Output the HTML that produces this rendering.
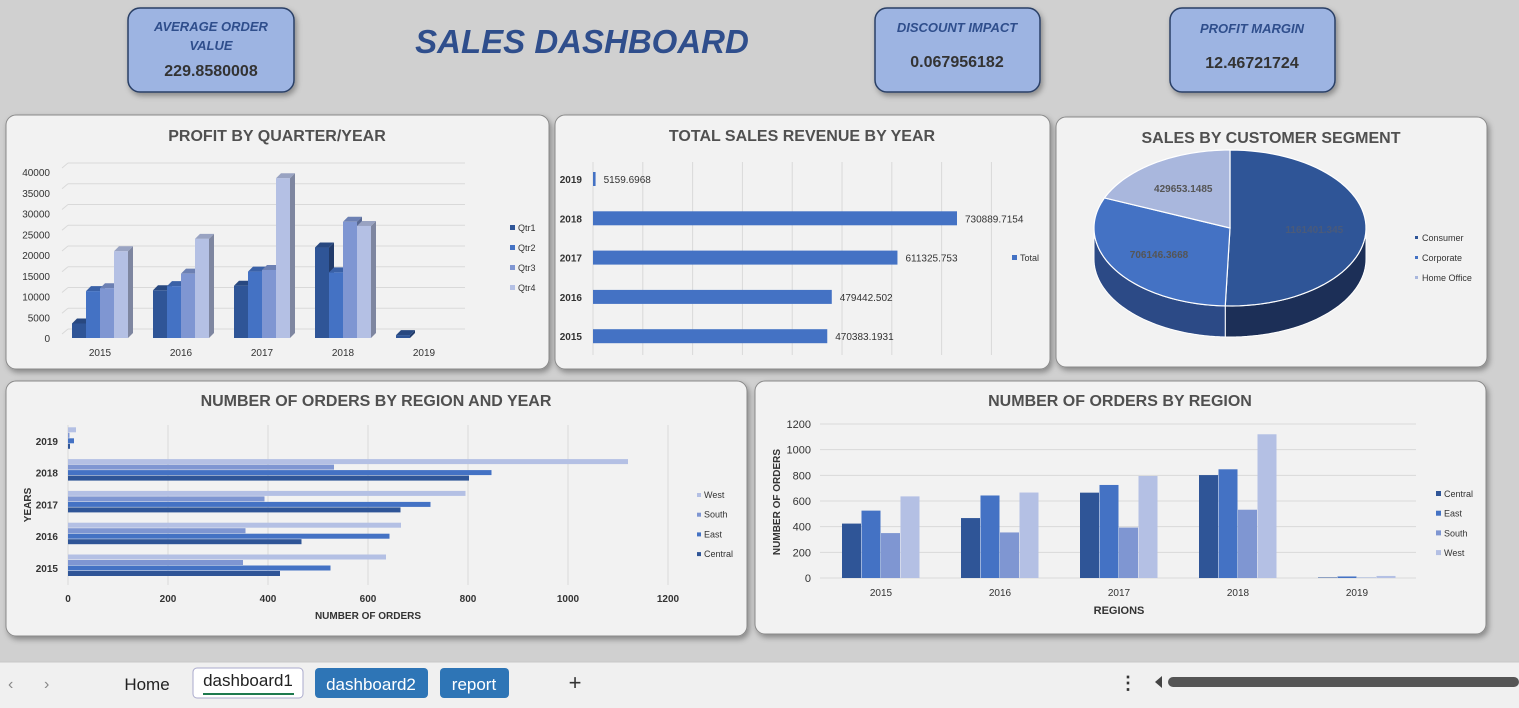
<!DOCTYPE html>
<html><head><meta charset="utf-8"><style>
html,body{margin:0;padding:0;width:1519px;height:708px;overflow:hidden;background:#d0d0d0;font-family:"Liberation Sans",sans-serif}
svg text{font-family:"Liberation Sans",sans-serif}
</style></head><body>
<svg id="s" width="1519" height="708" xmlns="http://www.w3.org/2000/svg">
<defs>
<filter id="sh" x="-10%" y="-10%" width="130%" height="140%"><feDropShadow dx="2" dy="3" stdDeviation="3" flood-color="#000" flood-opacity="0.35"/></filter>
</defs>
<rect width="1519" height="708" fill="#d0d0d0"/>
<g>
<rect x="128" y="8" width="166" height="84" rx="12" fill="#9db4e2" stroke="#2a3f66" stroke-width="1.5" filter="url(#sh)"/>
<text x="211" y="31" text-anchor="middle" font-size="13" font-weight="bold" font-style="italic" fill="#2f4e8c">AVERAGE ORDER</text>
<text x="211" y="50" text-anchor="middle" font-size="13" font-weight="bold" font-style="italic" fill="#2f4e8c">VALUE</text>
<text x="211" y="76" text-anchor="middle" font-size="16" font-weight="bold" fill="#333">229.8580008</text></g>
<text x="582" y="53" text-anchor="middle" font-size="33" font-weight="bold" font-style="italic" fill="#2f4e8c">SALES DASHBOARD</text>
<g>
<rect x="875" y="8" width="165" height="84" rx="12" fill="#9db4e2" stroke="#2a3f66" stroke-width="1.5" filter="url(#sh)"/>
<text x="957" y="32" text-anchor="middle" font-size="13" font-weight="bold" font-style="italic" fill="#2f4e8c">DISCOUNT IMPACT</text>
<text x="957" y="67" text-anchor="middle" font-size="16" font-weight="bold" fill="#333">0.067956182</text></g>
<g>
<rect x="1170" y="8" width="165" height="84" rx="12" fill="#9db4e2" stroke="#2a3f66" stroke-width="1.5" filter="url(#sh)"/>
<text x="1252" y="33" text-anchor="middle" font-size="13" font-weight="bold" font-style="italic" fill="#2f4e8c">PROFIT MARGIN</text>
<text x="1252" y="68" text-anchor="middle" font-size="16" font-weight="bold" fill="#333">12.46721724</text></g>

<g id="panels"></g>
<g id="c1"></g><g id="c2"></g><g id="c3"></g><g id="c4"></g><g id="c5"></g>

<g>
<rect x="0" y="662" width="1519" height="46" fill="#f0f0f0"/>
<line x1="0" y1="662" x2="1519" y2="662" stroke="#c8c8c8"/>
<text x="8" y="689" font-size="16" fill="#888">‹</text>
<text x="44" y="689" font-size="16" fill="#888">›</text>
<text x="147" y="690" text-anchor="middle" font-size="17" fill="#222">Home</text>
<g><rect x="193" y="668" width="110" height="30" rx="4" fill="#fff" stroke="#aac"/><text x="248" y="686" text-anchor="middle" font-size="17" fill="#222">dashboard1</text><line x1="203" y1="694" x2="294" y2="694" stroke="#1e7a4e" stroke-width="2"/></g>
<g><rect x="315" y="668" width="113" height="30" rx="4" fill="#2e75b6"/><text x="371" y="690" text-anchor="middle" font-size="17" fill="#fff">dashboard2</text></g>
<g><rect x="440" y="668" width="69" height="30" rx="4" fill="#2e75b6"/><text x="474" y="690" text-anchor="middle" font-size="17" fill="#fff">report</text></g>
<text x="575" y="690" text-anchor="middle" font-size="22" fill="#333">+</text>
<text x="1128" y="689" text-anchor="middle" font-size="18" font-weight="bold" fill="#333">⋮</text>
<path d="M1162,676 L1155,682 L1162,688 Z" fill="#444"/>
<rect x="1168" y="677" width="351" height="10" rx="5" fill="#555"/>
</g>
</svg>
<script>
const NS="http://www.w3.org/2000/svg";
function el(p,t,a,txt){const e=document.createElementNS(NS,t);for(const k in a)e.setAttribute(k,a[k]);if(txt!==undefined)e.textContent=txt;p.appendChild(e);return e;}
const COL=["#2f5597","#4472c4","#7f96d2","#b4c0e4"];
function shade(c,f){const n=parseInt(c.slice(1),16);let r=n>>16,g=(n>>8)&255,b=n&255;return "rgb("+Math.round(r*f)+","+Math.round(g*f)+","+Math.round(b*f)+")";}

const P=document.getElementById('panels');
const panelBoxes=[[6,115,543,254,"profit-by-quarter-panel"],[555,115,495,254,"sales-revenue-panel"],[1056,117,431,250,"customer-segment-panel"],[6,381,741,255,"orders-region-year-panel"],[755,381,731,253,"orders-by-region-panel"]];
panelBoxes.forEach(b=>{const r=el(P,'rect',{x:b[0],y:b[1],width:b[2],height:b[3],rx:10,fill:'#f2f2f2',stroke:'#8a8a8a','stroke-width':1,filter:'url(#sh)'});

});
function title(g,x,y,t,n){const e=el(g,'text',{x:x,y:y,'text-anchor':'middle','font-size':16,'font-weight':'bold',fill:'#505050'},t);}

// ---------- Chart 1 ----------
const c1Years=["2015","2016","2017","2018","2019"];
const c1Series=["Qtr1","Qtr2","Qtr3","Qtr4"];
const c1Qtr1=[3500,11500,12600,21800,700];
const c1Qtr2=[11300,12500,16000,15800,0];
const c1Qtr3=[12000,15500,16400,28000,0];
const c1Qtr4=[20900,23900,38500,27000,0];
const c1Ticks=[0,5000,10000,15000,20000,25000,30000,35000,40000];
(function(){const g=document.getElementById('c1');title(g,277,141,"PROFIT BY QUARTER/YEAR","chart1-title");
const y=v=>338-v*(166/40000), xc=i=>100+i*81;
c1Ticks.forEach(t=>{el(g,'line',{x1:62,y1:y(t)-4,x2:68,y2:y(t)-9,stroke:'#d9d9d9'});el(g,'line',{x1:68,y1:y(t)-9,x2:465,y2:y(t)-9,stroke:'#d9d9d9'});
const tt=el(g,'text',{x:50,y:y(t)+4,'text-anchor':'end','font-size':10,fill:'#333'},t);});
const data=[c1Qtr1,c1Qtr2,c1Qtr3,c1Qtr4];
c1Years.forEach((yr,i)=>{
 data.forEach((s,j)=>{const v=s[i];if(v<=0&&!(i==4&&j==0))return;const bx=xc(i)-28+j*14,w=14,top=y(v),h=338-top,d=5;
  const gb=el(g,'g',{});
  el(gb,'polygon',{points:`${bx+w},${top} ${bx+w+d},${top-5} ${bx+w+d},${338-5} ${bx+w},338`,fill:shade(COL[j],0.7)});
  el(gb,'polygon',{points:`${bx},${top} ${bx+d},${top-5} ${bx+w+d},${top-5} ${bx+w},${top}`,fill:shade(COL[j],0.85)});
  el(gb,'rect',{x:bx,y:top,width:w,height:Math.max(h,2),fill:COL[j]});});
 const t=el(g,'text',{x:xc(i),y:356,'text-anchor':'middle','font-size':10,fill:'#333'},yr);});
c1Series.forEach((s,j)=>{const lg=el(g,'g',{});
 el(lg,'rect',{x:510,y:225+j*20,width:5,height:5,fill:COL[j]});el(lg,'text',{x:518,y:231+j*20,'font-size':9,fill:'#333'},s);});
})();

// ---------- Chart 2 ----------
const c2Years=["2019","2018","2017","2016","2015"];
const c2Values=[5159.6968,730889.7154,611325.753,479442.502,470383.1931];
const c2Labels=["5159.6968","730889.7154","611325.753","479442.502","470383.1931"];
(function(){const g=document.getElementById('c2');title(g,802,141,"TOTAL SALES REVENUE BY YEAR","chart2-title");
const x=v=>593+v*(364/730889), yc=i=>179+i*39.3;
for(let k=0;k<=8;k++)el(g,'line',{x1:x(k*100000),y1:162,x2:x(k*100000),y2:355,stroke:'#d9d9d9'});
c2Years.forEach((yr,i)=>{const b=el(g,'rect',{x:593,y:yc(i)-7,width:Math.max(x(c2Values[i])-593,2),height:14,fill:'#4472c4'});
 
 el(g,'text',{x:x(c2Values[i])+8,y:yc(i)+4,'font-size':10,fill:'#333'},c2Labels[i]);
 const t=el(g,'text',{x:582,y:yc(i)+4,'text-anchor':'end','font-size':10,'font-weight':'bold',fill:'#333'},yr);});
const lg=el(g,'g',{});
el(lg,'rect',{x:1012,y:255,width:5,height:5,fill:'#4472c4'});el(lg,'text',{x:1020,y:261,'font-size':9,fill:'#333'},"Total");
})();

// ---------- Chart 3 ----------
const c3Segments=["Consumer","Corporate","Home Office"];
const c3Values=[1161401.345,706146.3668,429653.1485];
const c3Labels=["1161401.345","706146.3668","429653.1485"];
(function(){const g=document.getElementById('c3');title(g,1271,143,"SALES BY CUSTOMER SEGMENT","chart3-title");
const cx=1230,cy=228,rx=136,ry=78,D=31,PC=["#2f5597","#4472c4","#a9b7dd"];
const pt=(a,dy)=>[cx+rx*Math.sin(a),cy-ry*Math.cos(a)+(dy||0)];
const tot=c3Values.reduce((a,b)=>a+b,0);let a0=0;const ang=[];
c3Values.forEach(v=>{const a1=a0+v/tot*2*Math.PI;ang.push([a0,a1]);a0=a1;});
ang.forEach((r,i)=>{const s=Math.max(r[0],Math.PI/2),e=Math.min(r[1],3*Math.PI/2);if(e<=s)return;
 let d="";const N=40;for(let k=0;k<=N;k++){const p=pt(s+(e-s)*k/N);d+=(k?"L":"M")+p[0]+","+p[1];}
 for(let k=N;k>=0;k--){const p=pt(s+(e-s)*k/N,D);d+="L"+p[0]+","+p[1];}
 el(g,'path',{d:d+"Z",fill:i==0?'#1c2f57':'#2c4a86',stroke:'#fff','stroke-width':1});});
ang.forEach((r,i)=>{let d=`M${cx},${cy}`;const N=60;for(let k=0;k<=N;k++){const p=pt(r[0]+(r[1]-r[0])*k/N);d+="L"+p[0]+","+p[1];}
 const s=el(g,'path',{d:d+"Z",fill:PC[i],stroke:'#fff','stroke-width':1.2});
 const m=(r[0]+r[1])/2,lp=[cx+rx*0.62*Math.sin(m),cy-ry*0.62*Math.cos(m)];
 el(g,'text',{x:lp[0],y:lp[1]+4,'text-anchor':'middle','font-size':10,'font-weight':'bold',fill:i==0?'#4a5a7a':'#555'},c3Labels[i]);});
c3Segments.forEach((s,j)=>{const lg=el(g,'g',{});
 el(lg,'rect',{x:1415,y:236+j*20,width:3,height:3,fill:PC[j]});el(lg,'text',{x:1422,y:241+j*20,'font-size':9,fill:'#333'},s);});
})();

const regions=["Central","East","South","West"];
const ordCentral=[424,467,665,802,4];
const ordEast=[525,643,725,847,12];
const ordSouth=[350,355,393,532,3];
const ordWest=[636,666,795,1120,16];
const ordYears=["2015","2016","2017","2018","2019"];
const ordTicks=[0,200,400,600,800,1000,1200];

// ---------- Chart 4 ----------
(function(){const g=document.getElementById('c4');title(g,376,406,"NUMBER OF ORDERS BY REGION AND YEAR","chart4-title");
const x=v=>68+v*0.5, yc=i=>568-i*31.8;
ordTicks.forEach(t=>{el(g,'line',{x1:x(t),y1:425,x2:x(t),y2:585,stroke:'#d9d9d9'});
 const tt=el(g,'text',{x:x(t),y:602,'text-anchor':'middle','font-size':10,'font-weight':'bold',fill:'#333'},t);});
const data=[ordCentral,ordEast,ordSouth,ordWest];
ordYears.forEach((yr,i)=>{data.forEach((s,j)=>{const b=el(g,'rect',{x:68,y:yc(i)+8-j*5.5-5,width:Math.max(x(s[i])-68,1),height:5,fill:COL[j]});
 });
 const t=el(g,'text',{x:58,y:yc(i)+4,'text-anchor':'end','font-size':10,'font-weight':'bold',fill:'#333'},yr);});
const xt=el(g,'text',{x:368,y:619,'text-anchor':'middle','font-size':10,'font-weight':'bold',fill:'#333'},"NUMBER OF ORDERS");
const yt=el(g,'text',{x:0,y:0,transform:'translate(31,505) rotate(-90)','text-anchor':'middle','font-size':10,'font-weight':'bold',fill:'#333'},"YEARS");
[3,2,1,0].forEach((j,k)=>{const lg=el(g,'g',{});
 el(lg,'rect',{x:697,y:493+k*19.7,width:4,height:4,fill:COL[j]});el(lg,'text',{x:704,y:498+k*19.7,'font-size':9,fill:'#333'},regions[j]);});
})();

// ---------- Chart 5 ----------
(function(){const g=document.getElementById('c5');title(g,1120,406,"NUMBER OF ORDERS BY REGION","chart5-title");
const y=v=>578-v*(154/1200), xc=i=>881+i*119;
ordTicks.forEach(t=>{el(g,'line',{x1:820,y1:y(t),x2:1416,y2:y(t),stroke:'#d9d9d9'});
 const tt=el(g,'text',{x:811,y:y(t)+4,'text-anchor':'end','font-size':11,fill:'#333'},t);});
const data=[ordCentral,ordEast,ordSouth,ordWest];
ordYears.forEach((yr,i)=>{data.forEach((s,j)=>{const b=el(g,'rect',{x:xc(i)-39+j*19.5,y:y(s[i]),width:19,height:578-y(s[i]),fill:COL[j]});
 });
 const t=el(g,'text',{x:xc(i),y:596,'text-anchor':'middle','font-size':10,fill:'#333'},yr);});
const xt=el(g,'text',{x:1119,y:614,'text-anchor':'middle','font-size':11,'font-weight':'bold',fill:'#333'},"REGIONS");
const yt=el(g,'text',{x:0,y:0,transform:'translate(780,502) rotate(-90)','text-anchor':'middle','font-size':10,'font-weight':'bold',fill:'#333'},"NUMBER OF ORDERS");
regions.forEach((r,j)=>{const lg=el(g,'g',{});
 el(lg,'rect',{x:1436,y:491+j*19.7,width:5,height:5,fill:COL[j]});el(lg,'text',{x:1444,y:497+j*19.7,'font-size':9,fill:'#333'},r);});
})();
</script>
</body></html>
